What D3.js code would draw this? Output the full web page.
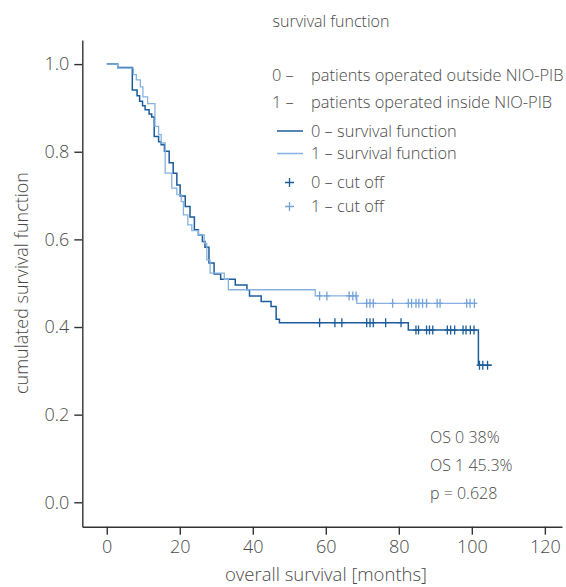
<!DOCTYPE html>
<html><head><meta charset="utf-8">
<script src="https://cdn.jsdelivr.net/npm/d3@7"></script>
<style>
html,body{margin:0;padding:0;background:#fff;}
text{font-family:"Open Sans","Noto Sans",sans-serif;font-weight:300;fill:#4a4a4a;}
</style></head>
<body><svg id="c" width="566" height="587"></svg>
<script>
// ---- data ----
const xTicks = [0, 20, 40, 60, 80, 100, 120];
const yTicks = [0.0, 0.2, 0.4, 0.6, 0.8, 1.0];

// group 0 (outside NIO-PIB): step times and survival after each step
const darkTimes = [0, 3.0, 7.0, 8.3, 9.0, 9.8, 10.5, 11.6, 12.3, 13.0, 14.2, 14.9, 15.8, 17.1, 18.2, 19.2, 20.1, 21.5, 22.8, 24.0, 25.1, 26.2, 26.9, 28.0, 29.4, 31.2, 35.2, 38.4, 39.1, 42.3, 45.0, 46.4, 47.3, 82.6, 101.8];
const darkSurv  = [1.0, 0.992, 0.941, 0.928, 0.915, 0.905, 0.896, 0.886, 0.879, 0.835, 0.823, 0.816, 0.801, 0.775, 0.751, 0.724, 0.699, 0.675, 0.651, 0.622, 0.610, 0.595, 0.582, 0.546, 0.521, 0.509, 0.496, 0.485, 0.471, 0.458, 0.447, 0.418, 0.410, 0.393, 0.313];
const darkEnd = 105.5;
const darkCensor = [58.3, 62.5, 64.4, 71.2, 72.1, 73.0, 76.4, 80.6, 84.7, 85.4, 87.6, 88.4, 89.3, 93.3, 94.2, 95.3, 97.6, 98.4, 99.6, 100.6, 102.1, 103.0, 104.3];

// group 1 (inside NIO-PIB)
const lightTimes = [0, 3.0, 7.3, 8.1, 9.2, 9.9, 11.2, 13.2, 14.2, 14.9, 16.0, 17.8, 19.2, 20.4, 21.0, 22.2, 23.3, 25.1, 26.7, 27.4, 28.3, 32.2, 33.3, 57.1, 68.5];
const lightSurv  = [1.0, 0.991, 0.976, 0.964, 0.948, 0.925, 0.910, 0.858, 0.839, 0.820, 0.751, 0.717, 0.702, 0.686, 0.656, 0.633, 0.620, 0.610, 0.591, 0.553, 0.523, 0.509, 0.485, 0.471, 0.454];
const lightEnd = 101.2;
const lightCensor = [58.3, 60.3, 66.4, 67.4, 68.3, 71.2, 72.1, 73.0, 78.3, 82.6, 83.5, 84.7, 85.5, 86.5, 87.6, 90.5, 91.3, 98.6, 99.5, 100.7];

const legendGroups = ["0 \u2013", "1 \u2013"];
const legendGroupNames = ["patients operated outside NIO-PIB", "patients operated inside NIO-PIB"];
const legendLines = ["0 \u2013 survival function", "1 \u2013 survival function"];
const legendCuts = ["0 \u2013 cut off", "1 \u2013 cut off"];
const statsText = ["OS 0 38%", "OS 1 45.3%", "p = 0.628"];

const DARK = "#1b5c9b", LIGHT = "#86b1e1", LIGHTC = "#74a2da";

// ---- scales ----
const svg = d3.select("#c");
const x = d3.scaleLinear().domain([-6.7, 124.7]).range([82.3, 562]);
const y = d3.scaleLinear().domain([-0.0557, 1.055]).range([526.7, 40]);

// axes
const gx = svg.append("g").attr("transform", "translate(0,526.7)")
  .call(d3.axisBottom(x).tickValues(xTicks).tickSize(8).tickSizeOuter(0).tickPadding(6).tickFormat(d3.format("d")));
const gy = svg.append("g").attr("transform", "translate(82.3,0)")
  .call(d3.axisLeft(y).tickValues(yTicks).tickSize(8).tickSizeOuter(0).tickPadding(5).tickFormat(d3.format(".1f")));
[gx, gy].forEach(g => {
  g.select(".domain").attr("stroke", "#333").attr("stroke-width", 1.4);
  g.selectAll(".tick line").attr("stroke", "#333").attr("stroke-width", 1.4);
  g.selectAll(".tick text").style("font-size", "18px").attr("fill", "#4a4a4a");
});

// curves
function stepPoints(ts, ss, end) {
  const pts = ts.map((t, i) => [t, ss[i]]);
  pts.push([end, ss[ss.length - 1]]);
  return pts;
}
function survAt(ts, ss, t) {
  let v = ss[0];
  for (let i = 0; i < ts.length; i++) if (ts[i] <= t) v = ss[i];
  return v;
}
const line = d3.line().x(d => x(d[0])).y(d => y(d[1])).curve(d3.curveStepAfter);

function drawSeries(ts, ss, end, cens, col, ccol, w) {
  svg.append("path").datum(stepPoints(ts, ss, end))
    .attr("d", line).attr("fill", "none").attr("stroke", col).attr("stroke-width", w);
  svg.append("g").selectAll("path").data(cens).join("path")
    .attr("d", c => {
      const cx = x(c), cy = y(survAt(ts, ss, c));
      return `M${cx},${cy - 4.5}v9M${cx - 3},${cy}h6`;
    })
    .attr("stroke", ccol).attr("stroke-width", 1.3).attr("fill", "none");
}
drawSeries(darkTimes, darkSurv, darkEnd, darkCensor, DARK, DARK, 1.5);
drawSeries(lightTimes, lightSurv, lightEnd, lightCensor, LIGHT, LIGHTC, 1.3);

// title & axis labels
svg.append("text").attr("x", 331).attr("y", 27).attr("text-anchor", "middle")
  .style("font-size", "16px").text("survival function");
svg.append("text").attr("x", 326).attr("y", 581).attr("text-anchor", "middle")
  .style("font-size", "18.5px").text("overall survival [months]");
svg.append("text").attr("transform", "translate(28,283) rotate(-90)").attr("text-anchor", "middle")
  .style("font-size", "18px").text("cumulated survival function");

// legend
const lg = svg.append("g");
legendGroups.forEach((g, i) => {
  lg.append("text").attr("x", 272).attr("y", 81 + i * 27).style("font-size", "16.4px").text(g);
  lg.append("text").attr("x", 311).attr("y", 81 + i * 27).style("font-size", "16.4px").text(legendGroupNames[i]);
});
[DARK, LIGHT].forEach((col, i) => {
  const yy = 131 + i * 22.5;
  lg.append("line").attr("x1", 277).attr("x2", 303).attr("y1", yy).attr("y2", yy)
    .attr("stroke", col).attr("stroke-width", 1.5);
  lg.append("text").attr("x", 311).attr("y", yy + 5.5).style("font-size", "16.4px").text(legendLines[i]);
});
[DARK, LIGHTC].forEach((col, i) => {
  const yy = 182.5 + i * 24;
  lg.append("path").attr("d", `M289.5,${yy - 4.5}v9M285,${yy}h9`).attr("stroke", col).attr("stroke-width", 1.3);
  lg.append("text").attr("x", 311).attr("y", yy + 5.5).style("font-size", "16.4px").text(legendCuts[i]);
});

// stats
statsText.forEach((t, i) => {
  svg.append("text").attr("x", 430).attr("y", 443 + i * 28).style("font-size", "16px").text(t);
});
</script></body></html>
